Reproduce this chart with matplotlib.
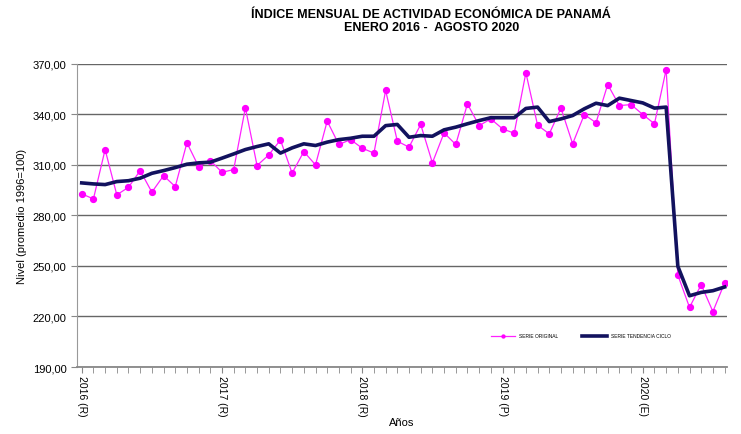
import matplotlib.pyplot as plt
import numpy as np

plt.rcParams['font.family'] = ['Liberation Sans', 'DejaVu Sans']

# Serie original (enero 2016 - agosto 2020)
serie_original = [
    292.8, 289.8, 319.1, 292.2, 296.7, 306.6, 293.8, 303.6, 297.1, 323.1, 309.0, 312.6,
    305.6, 307.2, 343.9, 309.6, 315.9, 324.8, 305.1, 317.9, 310.0, 336.0, 322.1, 325.0,
    319.9, 317.0, 354.2, 324.1, 320.5, 334.0, 311.2, 329.0, 322.1, 346.2, 333.3, 337.3,
    331.4, 328.8, 364.7, 333.6, 328.4, 343.7, 322.5, 339.9, 335.0, 357.7, 345.2, 345.8,
    339.9, 334.4, 366.6, 244.6, 225.4, 238.9, 222.9, 239.9,
]

# Serie tendencia-ciclo
serie_tendencia = [
    299.3, 298.7, 298.3, 300.1, 300.6, 302.1, 305.0, 306.6, 308.4, 310.4, 311.2, 311.6,
    314.0, 316.5, 319.1, 320.9, 322.5, 317.0, 320.1, 322.5, 321.5, 323.5, 325.0, 325.8,
    327.0, 327.0, 333.3, 334.0, 326.4, 327.4, 327.0, 330.8, 332.4, 334.4, 336.3, 338.0,
    338.0, 338.0, 343.5, 344.3, 335.7, 337.3, 339.3, 343.3, 346.6, 345.2, 349.6, 348.2,
    346.8, 343.7, 344.3, 249.8, 232.3, 234.3, 235.3, 237.5,
]

year_labels = ['2016 (R)', '2017 (R)', '2018 (R)', '2019 (P)', '2020 (E)']
y_ticks = [190, 220, 250, 280, 310, 340, 370]

x = np.arange(len(serie_original))

fig = plt.figure(figsize=(7.41, 4.35), dpi=100)
ax = fig.add_axes([0.104, 0.154, 0.877, 0.697])

ax.plot(x, serie_original, color='#ff22ff', lw=0.9, marker='o', ms=4.2,
        mec='#ff00ff', mfc='#ff00ff', label='SERIE ORIGINAL', zorder=3)
ax.plot(x, serie_tendencia, color='#12125e', lw=2.6, label='SERIE TENDENCIA CICLO', zorder=4)

ax.set_ylim(190, 370)
ax.set_yticks(y_ticks)
ax.set_yticklabels([f'{v:.2f}'.replace('.', ',') for v in y_ticks], fontsize=8)
ax.yaxis.grid(True, color='#666666', lw=1.0)
ax.set_axisbelow(True)

ax.set_xlim(-0.4, 55.2)
ax.set_xticks([0, 12, 24, 36, 48])
ax.set_xticklabels(year_labels, rotation=270, fontsize=7.5, va='top', ha='center')
ax.set_xticks(np.arange(0, 56), minor=True)
ax.tick_params(axis='x', which='both', direction='out', length=4, color='#888888', pad=2)
ax.tick_params(axis='y', length=4, color='#888888')

for s in ['top', 'right']:
    ax.spines[s].set_visible(False)
ax.spines['left'].set_color('#999999')
ax.spines['bottom'].set_color('#888888')
ax.spines['bottom'].set_linewidth(1.3)

ax.set_ylabel('Nivel (promedio 1996=100)', fontsize=8)
ax.set_xlabel('Años', fontsize=8, labelpad=1)

ax.legend(loc='lower right', bbox_to_anchor=(0.92, 0.08), ncol=2, fontsize=3.5,
          frameon=False, handlelength=5, columnspacing=5, markerscale=0.5)

fig.suptitle('ÍNDICE MENSUAL DE ACTIVIDAD ECONÓMICA DE PANAMÁ\nENERO 2016 -  AGOSTO 2020',
             x=0.582, y=0.98, fontsize=9, fontweight='bold', linespacing=1.15)

fig.savefig('out.png', dpi=100)
